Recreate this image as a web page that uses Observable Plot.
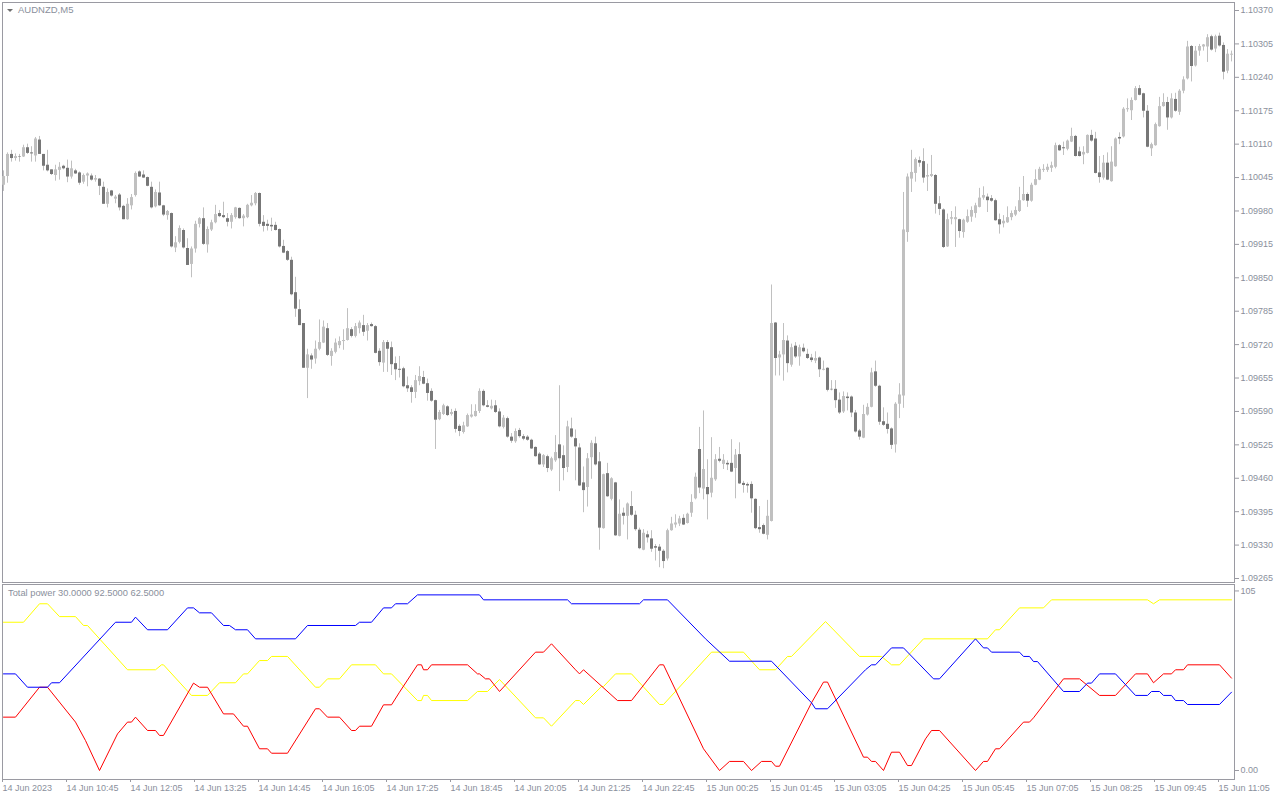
<!DOCTYPE html>
<html>
<head>
<meta charset="utf-8">
<script src="https://cdn.jsdelivr.net/npm/d3@7"></script>
<script src="https://cdn.jsdelivr.net/npm/@observablehq/plot@0.6"></script>
<style>
  html, body { margin: 0; padding: 0; background: #ffffff; }
  #wrap { position: relative; width: 1280px; height: 800px; overflow: hidden; font-family: "Liberation Sans", Arial, sans-serif; }
  #topPanel, #indPanel { position: absolute; left: 0; }
  #topPanel { top: 0; }
  #indPanel { top: 583px; }
  .lbl { position: absolute; color: #8a8f9c; white-space: nowrap; line-height: 12px; }
  .tri { position: absolute; left: 7px; top: 9px; width: 0; height: 0;
         border-left: 3px solid transparent; border-right: 3px solid transparent; border-top: 3px solid #6e6e6e; }
</style>
</head>
<body>
<div id="wrap">
  <div id="topPanel"></div>
  <div id="indPanel"></div>
  <div class="tri"></div>
  <div class="lbl" id="sym" style="left:18px;top:4px;font-size:9.5px;"></div>
  <div class="lbl" id="indTitle" style="left:8px;top:587px;font-size:9.3px;"></div>
</div>
<script>
// ---------- DATA (prices in 1e-5 units) ----------
const symbolTitle = "AUDNZD,M5";
const indicatorTitle = "Total power 30.0000 92.5000 62.5000";

const openP = [
110030,110047,110090,110082,110086,110085,110103,110093,110087,110118,
110090,110069,110060,110049,110059,110067,110063,110046,110058,110054,
110036,110048,110048,110040,110042,110026,109993,110019,110003,110011,
109989,109963,109990,110010,110056,110050,110045,110026,109988,110015,
109990,109971,109975,109908,109919,109942,109907,109876,109906,109954,
109965,109914,109943,109957,109975,109971,109965,109958,109967,109985,
109965,109967,109990,109994,110014,109958,109954,109952,109952,109944,
109911,109901,109884,109821,109788,109761,109674,109698,109692,109711,
109723,109751,109697,109705,109718,109726,109728,109749,109736,109751,
109757,109746,109759,109755,109707,109684,109724,109714,109683,109672,
109673,109640,109636,109627,109648,109656,109644,109629,109611,109574,
109584,109599,109584,109590,109561,109549,109560,109579,109580,109590,
109629,109601,109595,109601,109589,109559,109576,109540,109531,109553,
109541,109540,109534,109520,109507,109486,109502,109476,109494,109525,
109504,109481,109556,109537,109519,109451,109442,109500,109527,109492,
109362,109469,109419,109451,109347,109392,109386,109405,109388,109359,
109320,109350,109342,109327,109326,109318,109303,109358,109369,109371,
109382,109372,109392,109420,109516,109439,109442,109431,109457,109497,
109487,109489,109489,109479,109506,109450,109448,109448,109419,109364,
109368,109349,109376,109762,109694,109700,109727,109680,109717,109696,
109713,109701,109694,109688,109694,109670,109674,109633,109633,109612,
109589,109618,109618,109587,109552,109538,109583,109598,109667,109639,
109570,109565,109556,109525,109604,109620,109938,110042,110053,110078,
110076,110046,110047,110049,109994,109982,109910,109964,109963,109963,
109938,109958,109968,109975,109987,110005,110007,110004,110000,109963,
109955,109957,109967,109972,109979,110000,110012,109999,110030,110040,
110059,110059,110063,110065,110107,110103,110100,110114,110125,110095,
110089,110092,110127,110120,110054,110044,110073,110037,110066,110123,
110124,110177,110175,110195,110218,110208,110174,110101,110107,110144,
110183,110191,110161,110197,110172,110213,110237,110300,110262,110291,
110299,110299,110319,110295,110320,110302,110252,110283];

const highP = [
110058,110093,110098,110091,110090,110108,110110,110105,110123,110125,
110090,110098,110060,110069,110074,110069,110079,110077,110061,110056,
110052,110054,110052,110049,110043,110036,110023,110020,110010,110014,
109991,110004,110012,110056,110058,110058,110046,110036,110021,110036,
109991,109981,109976,109930,109951,109945,109926,109910,109960,109967,
109986,109949,109962,109991,109981,109997,109975,109975,109987,109986,
109973,109993,110010,110016,110015,109971,109962,109966,109958,109945,
109923,109903,109890,109851,109807,109761,109711,109702,109727,109768,
109766,109761,109712,109731,109735,109749,109790,109753,109761,109766,
109777,109761,109762,109757,109712,109728,109728,109725,109696,109697,
109676,109657,109640,109660,109677,109668,109653,109634,109612,109592,
109604,109601,109594,109595,109564,109569,109585,109603,109603,109634,
109632,109611,109612,109611,109595,109582,109579,109547,109556,109557,
109545,109543,109536,109521,109510,109506,109505,109501,109543,109640,
109523,109571,109577,109554,109527,109482,109508,109533,109540,109510,
109468,109489,109461,109452,109418,109402,109412,109434,109396,109363,
109360,109357,109358,109331,109331,109321,109361,109384,109389,109386,
109389,109392,109428,109470,109559,109591,109496,109539,109506,109520,
109506,109494,109535,109516,109529,109454,109451,109453,109420,109405,
109371,109417,109836,109763,109707,109761,109737,109721,109724,109719,
109721,109711,109701,109706,109696,109688,109675,109650,109650,109626,
109628,109626,109620,109592,109555,109602,109605,109674,109688,109641,
109597,109587,109558,109607,109644,110016,110052,110098,110083,110085,
110101,110071,110088,110051,110008,109984,109974,109979,109988,109964,
109964,109982,109988,109995,110024,110027,110013,110010,110003,109974,
109971,109988,109980,109988,110026,110047,110015,110034,110060,110065,
110070,110071,110075,110112,110109,110114,110118,110141,110127,110104,
110105,110128,110137,110133,110086,110088,110093,110105,110122,110132,
110181,110198,110200,110222,110224,110209,110185,110112,110151,110201,
110208,110201,110208,110209,110216,110241,110310,110302,110300,110304,
110304,110323,110322,110322,110326,110307,110294,110291];

const lowP = [
110018,110034,110075,110077,110075,110084,110090,110075,110075,110090,
110058,110056,110049,110038,110040,110060,110035,110042,110051,110030,
110032,110027,110038,110036,110010,109993,109986,110007,109994,109980,
109963,109962,109982,110007,110045,110043,110027,109984,109986,109989,
109969,109962,109908,109899,109916,109906,109874,109850,109898,109947,
109913,109898,109940,109955,109967,109965,109949,109945,109964,109964,
109949,109965,109988,109990,109949,109939,109941,109940,109941,109908,
109897,109882,109815,109773,109757,109674,109615,109672,109682,109708,
109722,109697,109678,109702,109712,109709,109727,109733,109733,109741,
109736,109727,109754,109702,109678,109666,109666,109660,109650,109655,
109636,109627,109606,109615,109640,109642,109610,109608,109516,109572,
109582,109580,109581,109548,109541,109546,109559,109577,109579,109586,
109599,109597,109593,109586,109558,109556,109538,109528,109528,109538,
109533,109532,109516,109501,109485,109481,109471,109473,109491,109434,
109455,109471,109538,109455,109444,109393,109404,109458,109484,109320,
109361,109423,109416,109347,109346,109369,109340,109386,109357,109321,
109319,109334,109316,109299,109286,109284,109299,109357,109363,109366,
109368,109371,109384,109418,109430,109418,109379,109422,109454,109490,
109477,109475,109471,109420,109448,109431,109431,109392,109360,109353,
109350,109340,109375,109659,109659,109649,109665,109676,109693,109678,
109704,109691,109685,109683,109656,109669,109628,109630,109596,109584,
109586,109591,109578,109548,109534,109537,109581,109597,109637,109563,
109561,109546,109516,109509,109576,109596,109919,110016,110036,110065,
110034,110018,110045,109974,109971,109907,109909,109953,109909,109927,
109927,109956,109958,109966,109986,110001,109977,109997,109960,109935,
109947,109956,109961,109969,109977,109999,109987,109997,110029,110039,
110055,110055,110055,110062,110096,110088,110097,110113,110085,110085,
110070,110091,110114,110052,110034,110040,110039,110036,110065,110109,
110122,110172,110156,110194,110204,110161,110103,110086,110106,110143,
110182,110137,110159,110172,110166,110208,110235,110231,110260,110281,
110291,110269,110291,110288,110299,110235,110247,110270];

const closeP = [
110047,110090,110082,110086,110085,110103,110092,110091,110120,110090,
110067,110058,110051,110060,110065,110062,110046,110062,110052,110034,
110049,110052,110040,110043,110028,109993,110016,110009,110007,109986,
109963,109993,110006,110053,110046,110044,110028,109986,110016,109990,
109972,109979,109910,109918,109946,109908,109874,109906,109954,109965,
109915,109944,109957,109973,109969,109967,109958,109971,109986,109965,
109970,109991,109995,110014,109954,109950,109950,109949,109942,109910,
109898,109884,109817,109789,109757,109674,109700,109690,109711,109724,
109754,109699,109707,109723,109726,109728,109751,109736,109755,109762,
109744,109757,109755,109703,109685,109724,109711,109681,109671,109670,
109638,109634,109627,109650,109658,109643,109625,109610,109573,109588,
109601,109582,109588,109555,109551,109562,109582,109583,109590,109629,
109601,109598,109600,109588,109560,109577,109540,109532,109551,109541,
109536,109534,109517,109502,109486,109504,109479,109498,109510,109498,
109479,109560,109540,109521,109445,109436,109498,109528,109486,109363,
109467,109424,109459,109348,109390,109386,109410,109388,109360,109323,
109353,109344,109322,109324,109318,109298,109358,109371,109373,109381,
109369,109390,109413,109462,109441,109477,109428,109460,109496,109493,
109495,109486,109472,109505,109449,109446,109445,109420,109362,109360,
109351,109386,109761,109693,109700,109728,109683,109714,109696,109714,
109706,109693,109689,109693,109671,109672,109631,109632,109611,109587,
109619,109615,109587,109550,109540,109584,109598,109665,109639,109569,
109563,109555,109524,109604,109622,109943,110046,110055,110080,110073,
110044,110049,110051,109993,109983,109909,109963,109967,109967,109940,
109962,109969,109981,109990,110005,110010,110000,109999,109961,109953,
109960,109967,109975,109981,110000,110012,109999,110030,110041,110061,
110061,110065,110068,110107,110097,110101,110116,110125,110086,110086,
110094,110127,110116,110053,110045,110073,110040,110075,110120,110120,
110178,110179,110195,110218,110205,110174,110104,110109,110148,110183,
110191,110161,110198,110174,110213,110235,110299,110261,110291,110300,
110303,110317,110293,110319,110301,110250,110285,110285];

// price-axis tick labels
const priceTicks = [1.10370,1.10305,1.10240,1.10175,1.10110,1.10045,1.09980,1.09915,1.09850,
                    1.09785,1.09720,1.09655,1.09590,1.09525,1.09460,1.09395,1.09330,1.09265];

// time-axis labels (bar index and text)
const timeTickBars = [0,16,32,48,64,80,96,112,128,144,160,176,192,208,224,240,256,272,288,304];
const timeTickLabels = ["14 Jun 2023","14 Jun 10:45","14 Jun 12:05","14 Jun 13:25","14 Jun 14:45",
  "14 Jun 16:05","14 Jun 17:25","14 Jun 18:45","14 Jun 20:05","14 Jun 21:25","14 Jun 22:45",
  "15 Jun 00:25","15 Jun 01:45","15 Jun 03:05","15 Jun 04:25","15 Jun 05:45","15 Jun 07:05",
  "15 Jun 08:25","15 Jun 09:45","15 Jun 11:05"];

// indicator lines: [bar index, value] at the line's vertices
const yellowLine = [[0,86.7],[5,86.7],[9,97.5],[11,97.5],[14,90],[18,90],[20,84.8],[21,84.8],[31,58.9],[38,58.9],
  [39.5,61.8],[40,61.8],[47,43.9],[51,43.9],[54,51.3],[58,51.3],[60,56.5],[61,56.5],[64,64.3],[66,64.3],
  [67,66.7],[71,66.7],[78,48.7],[79,48.7],[81,53.6],[84,53.6],[87,61.8],[93,61.8],[95,56.5],[97,56.5],
  [103.5,40.9],[104.5,40.9],[105,43.9],[106,43.9],[107,40.9],[116,40.9],[118.5,46.2],[121,46.2],[124,53.2],
  [133,30.8],[135,30.8],[137,25.9],[143,40.9],[144,40.9],[145,38.6],[149.5,49.1],[150,49.1],[153,56.5],[157,56.5],
  [164,38.6],[165,38.6],[177,69.2],[185,69.2],[189,58.9],[193,58.9],[196,66.7],[197,66.7],[205.5,87.1],
  [214,66.7],[219.5,66.7],[222,61.8],[224,61.8],[230,77],[246,77],[248,82.3],[249,82.3],[254,95.1],[260,95.1],
  [262,99.8],[286,99.8],[287.5,97.5],[289,99.8],[307,99.8]];

const blueLine = [[0,56.5],[3,56.5],[6,48.7],[11,48.7],[12,51.3],[14,51.3],[28,86.7],[32,86.7],[33,89.7],[36,82.3],
  [41,82.3],[46,95.1],[47.5,95.1],[49,92.2],[52,92.2],[55,84.8],[56.5,84.8],[58,82.3],[61,82.3],[63,77],[73,77],
  [76,84.8],[88,84.8],[89,86.7],[92,86.7],[95,95.1],[97,95.1],[98,97.5],[101,97.5],[103.5,102.7],[119,102.7],
  [120,99.8],[141,99.8],[142,97.5],[159,97.5],[160,99.8],[166,99.8],[175.5,77],[181.5,63.9],[192,63.9],
  [202,39.6],[203,36.1],[206,36.1],[215.5,58.9],[217,61.8],[218,61.8],[222,71.7],[225,71.7],[232.5,53.6],[234,53.6],
  [243,77],[245,71.7],[246,71.7],[247,69.2],[254,69.2],[255,66.7],[256.5,66.7],[257.5,63.7],[258.5,63.7],
  [265,46.2],[269,46.2],[271,51.1],[272,51.1],[274,56.5],[278,56.5],[283,43.9],[286,43.9],[287,46.2],[289,46.2],
  [290,43.9],[292,43.9],[293,40.9],[295,40.9],[296,38.6],[304,38.6],[307,45.8]];

const redLine = [[0,31.2],[3,31.2],[9,48.7],[11,48.7],[18,28.3],[20.5,17.5],[24,0],[28.5,21.4],[31,28.3],[32,28.3],
  [33,31.2],[36,23.4],[38,23.4],[39,20.5],[40,20.5],[47.5,51.1],[49,48.7],[51,48.7],[55,33.1],[57.5,33.1],
  [60,25.9],[61,25.9],[64,12.7],[66,12.7],[67,10.1],[71,10.1],[78,36.1],[79,36.1],[81,31.2],[84,31.2],
  [87,23.4],[88,23.4],[89,25.9],[92,25.9],[95,38.4],[97,38.4],[99,45.8],[103.5,61.8],[104.5,61.8],[105,58.9],
  [106,58.9],[107,61.8],[116,61.8],[118.5,56.5],[119,56.5],[120.5,53.6],[121.5,53.6],[124,46.2],[133,69.2],
  [135,69.2],[137,74.1],[143,58.9],[144,56.5],[145,58.9],[153.5,40.9],[157,40.9],[164,61.8],[165,61.8],
  [175,12.7],[179,0],[181.5,5.3],[185,5.3],[187,0],[189.5,5.3],[192,5.3],[193,2.5],[194,2.5],[202,39.6],
  [205,51.7],[206,51.7],[215,7.8],[216,7.8],[217,5.3],[218,5.3],[220,0],[222,10.7],[224,10.7],[226,2.9],[227,2.9],
  [230.5,18.5],[232,23.4],[234,23.4],[243,0],[245,5.3],[246,5.3],[248,12.7],[249,12.7],[255,28.3],[256.5,28.3],
  [257.5,30.8],[265,53.6],[269,53.6],[274,43.9],[278,43.9],[283,56.5],[286,56.5],[287.5,51.3],[290,56.5],
  [292,56.5],[293,58.9],[295,58.9],[296,61.8],[304,61.8],[307,54]];

const indTicks = [105, 0];

// ---------- BUILD ----------
const bars = openP.map((o, i) => ({
  i, open: o / 1e5, high: highP[i] / 1e5, low: lowP[i] / 1e5, close: closeP[i] / 1e5
}));
const upBars = bars.filter(d => d.close >= d.open);
const downBars = bars.filter(d => d.close < d.open);

const FONT = "'Liberation Sans', Arial, sans-serif";
const TXT = "#8a8f9c";
const BORDER = "#9a9aa2";
const LIGHT = "#c0c0c0";
const DARK = "#777777";

const xOpts = { domain: [0, bars.length - 1], insetLeft: 1, insetRight: 3, label: null };

const priceChart = Plot.plot({
  width: 1280, height: 583,
  marginTop: 2, marginBottom: 1, marginLeft: 2, marginRight: 46,
  style: { fontFamily: FONT, fontSize: "9px", color: TXT, background: "#ffffff", overflow: "visible" },
  x: { ...xOpts, axis: null },
  y: { domain: [1.09265, 1.10370], insetTop: 8, insetBottom: 4, label: null },
  marks: [
    Plot.frame({ stroke: BORDER }),
    Plot.ruleX(bars, { x: "i", y1: "low", y2: "high", stroke: LIGHT, strokeWidth: 1 }),
    Plot.ruleX(upBars, { x: "i", y1: "open", y2: "close", stroke: LIGHT, strokeWidth: 3 }),
    Plot.ruleX(downBars, { x: "i", y1: "open", y2: "close", stroke: DARK, strokeWidth: 3 }),
    Plot.axisY({ anchor: "right", ticks: priceTicks, tickFormat: d => d.toFixed(5), label: null,
                 tickSize: 4, tickPadding: 2, stroke: BORDER, fill: TXT, fontSize: 9 })
  ]
});
document.getElementById("topPanel").appendChild(priceChart);

const toPts = arr => arr.map(([i, v]) => ({ i, v }));

const indChart = Plot.plot({
  width: 1280, height: 217,
  marginTop: 1, marginBottom: 21, marginLeft: 2, marginRight: 46,
  style: { fontFamily: FONT, fontSize: "9px", color: TXT, background: "#ffffff", overflow: "visible" },
  x: xOpts,
  y: { domain: [-5, 105], insetTop: 6.45, insetBottom: 0.45, label: null },
  marks: [
    Plot.frame({ stroke: BORDER }),
    Plot.line(toPts(yellowLine), { x: "i", y: "v", stroke: "#ffff00", strokeWidth: 1 }),
    Plot.line(toPts(redLine), { x: "i", y: "v", stroke: "#ff0000", strokeWidth: 1 }),
    Plot.line(toPts(blueLine), { x: "i", y: "v", stroke: "#0000ff", strokeWidth: 1 }),
    Plot.axisY({ anchor: "right", ticks: indTicks, tickFormat: d => d === 0 ? "0.00" : String(d), label: null,
                 tickSize: 4, tickPadding: 2, stroke: BORDER, fill: TXT, fontSize: 9 }),
    Plot.axisX({ anchor: "bottom", ticks: timeTickBars, label: null,
                 tickFormat: d => timeTickLabels[timeTickBars.indexOf(d)],
                 textAnchor: "start", dx: -1, tickSize: 3, tickPadding: 2,
                 stroke: BORDER, fill: TXT, fontSize: 9 })
  ]
});
document.getElementById("indPanel").appendChild(indChart);

document.getElementById("sym").textContent = symbolTitle;
document.getElementById("indTitle").textContent = indicatorTitle;
</script>
</body>
</html>
